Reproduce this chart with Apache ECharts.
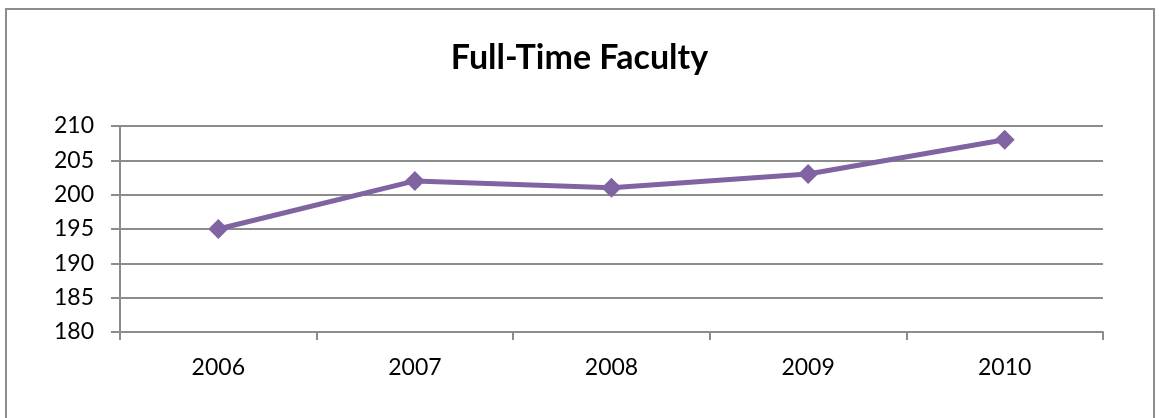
<!DOCTYPE html>
<html>
<head>
<meta charset="utf-8">
<script src="https://cdn.jsdelivr.net/npm/echarts@6/dist/echarts.min.js"></script>
<style>
  html, body { margin: 0; padding: 0; background: #fff; overflow: hidden; }
  #chart { width: 1159px; height: 418px; }
  #frame { position: absolute; left: 5px; top: 8px; width: 1150px; height: 430px;
           border: 2px solid #8c8c8c; box-sizing: border-box; pointer-events: none; }
</style>
</head>
<body>
<div id="chart"></div>
<div id="frame"></div>
<script>
// 数据
const years = ['2006', '2007', '2008', '2009', '2010'];
const faculty = [195, 202, 201, 203, 208];
const chartTitle = 'Full-Time Faculty';

const chart = echarts.init(document.getElementById('chart'));

const font = 'Lato, "Open Sans", sans-serif';

const option = {
  animation: false,
  title: {
    text: chartTitle,
    left: 'center',
    top: 36,
    textStyle: { fontFamily: font, fontSize: 34, fontWeight: 'bold', color: '#000' },
  },
  grid: { left: 120, right: 56, top: 126, bottom: 86 },
  xAxis: {
    type: 'category',
    data: years,
    boundaryGap: true,
    axisLine: { lineStyle: { color: '#8c8c8c', width: 2 } },
    axisTick: { show: true, length: 8, lineStyle: { color: '#8c8c8c', width: 2 } },
    axisLabel: { fontFamily: font, fontSize: 23, color: '#000', margin: 24 },
  },
  yAxis: {
    type: 'value',
    min: 180,
    max: 210,
    interval: 5,
    axisLine: { show: true, lineStyle: { color: '#8c8c8c', width: 2 } },
    axisTick: { show: true, length: 9, lineStyle: { color: '#8c8c8c', width: 2 } },
    splitLine: { lineStyle: { color: '#8c8c8c', width: 2 } },
    axisLabel: { fontFamily: font, fontSize: 23, color: '#000', margin: 26 },
  },
  series: [{
    type: 'line',
    data: faculty,
    symbol: 'diamond',
    symbolSize: 20,
    lineStyle: { color: '#8064a2', width: 5 },
    itemStyle: { color: '#8064a2' },
  }],
};

chart.setOption(option);
</script>
</body>
</html>
